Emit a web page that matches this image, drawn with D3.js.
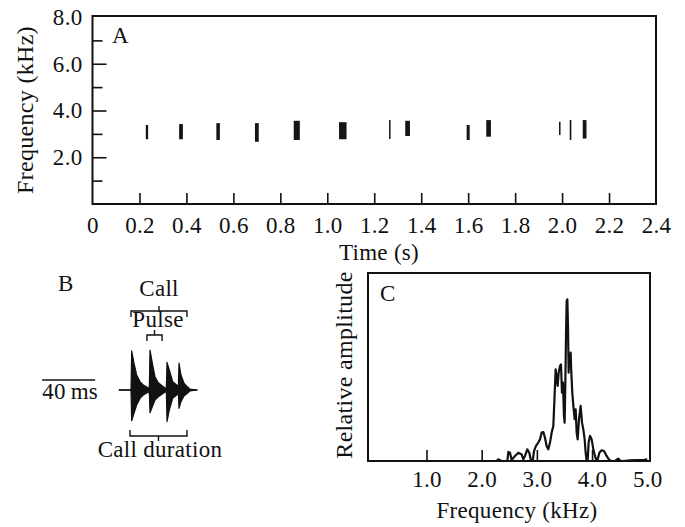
<!DOCTYPE html>
<html>
<head>
<meta charset="utf-8">
<script src="https://cdn.jsdelivr.net/npm/d3@7"></script>
<style>
body { margin: 0; background: #fff; }
</style>
</head>
<body>
<div id="canvas"></div>
<script>
// ---- panel A: spectrogram ----
let timeTicks = [0, 0.2, 0.4, 0.6, 0.8, 1.0, 1.2, 1.4, 1.6, 1.8, 2.0, 2.2, 2.4]
let freqMajor = [2, 4, 6, 8]
let freqMinor = [1, 3, 5, 7]
let callTime  = [0.232, 0.377, 0.535, 0.700, 0.870, 1.066, 1.266, 1.342, 1.600, 1.687, 1.990, 2.036, 2.096]
let callWidth = [0.010, 0.016, 0.015, 0.016, 0.026, 0.032, 0.006, 0.020, 0.013, 0.020, 0.006, 0.007, 0.016]
let callLow   = [2.77, 2.77, 2.74, 2.66, 2.74, 2.77, 2.78, 2.91, 2.74, 2.88, 2.95, 2.74, 2.80]
let callHigh  = [3.38, 3.42, 3.46, 3.46, 3.56, 3.50, 3.59, 3.56, 3.38, 3.59, 3.52, 3.59, 3.59]

// ---- panel B: oscillogram (ms, relative amplitude envelope) ----
let waveT  = [0, 9.06, 9.56, 11.32, 13.33, 15.85, 18.36, 21.38, 22.89, 23.40, 25.16, 27.17, 29.69, 33.46, 35.47, 35.72, 36.23, 37.99, 40.5, 43.52, 44.78, 45.28, 46.79, 49.06, 51.57, 53.58, 59]
let waveUp = [0, 0, 0.98, 0.67, 0.375, 0.21, 0.125, 0.07, 0.05, 1.0, 0.67, 0.33, 0.18, 0.08, 0.04, 0.03, 0.69, 0.5, 0.21, 0.125, 0.08, 0.67, 0.375, 0.17, 0.08, 0.02, 0]
let waveLo = [0, 0, -0.77, -0.58, -0.375, -0.21, -0.125, -0.07, -0.05, -0.57, -0.42, -0.25, -0.17, -0.08, -0.04, -0.03, -0.79, -0.5, -0.21, -0.125, -0.08, -0.46, -0.29, -0.15, -0.08, -0.02, 0]
let scaleBar = [-58, -18]          // 40 ms
let callSpan = [9.06, 51.3]
let pulseSpan = [21.1, 32.5]
let durSpan = [8.3, 51.3]

// ---- panel C: power spectrum ----
let specTicks = [1, 2, 3, 4, 5]
let specFreq = [2.15, 2.27, 2.30, 2.36, 2.465, 2.483, 2.513, 2.543, 2.604, 2.664, 2.724, 2.755, 2.785, 2.827, 2.863, 2.887, 2.924, 2.948, 2.984, 3.026, 3.057, 3.087, 3.117, 3.147, 3.177, 3.207, 3.238, 3.268, 3.298, 3.316, 3.340, 3.359, 3.377, 3.395, 3.419, 3.437, 3.455, 3.473, 3.491, 3.503, 3.515, 3.528, 3.540, 3.552, 3.564, 3.576, 3.588, 3.600, 3.612, 3.624, 3.642, 3.661, 3.685, 3.703, 3.721, 3.739, 3.763, 3.793, 3.818, 3.842, 3.866, 3.884, 3.902, 3.920, 3.938, 3.963, 3.993, 4.023, 4.053, 4.071, 4.095, 4.132, 4.174, 4.216, 4.264, 4.313, 4.355, 4.415, 4.476, 4.524, 4.566, 4.687, 4.808, 4.929, 5.0]
let specAmp = [0, 0, 0.009, 0, 0, 0.048, 0.044, 0.005, 0.027, 0.044, 0.035, 0.009, 0.027, 0.062, 0.044, 0.009, 0, 0.053, 0.080, 0.098, 0.115, 0.151, 0.154, 0.124, 0.080, 0.062, 0.098, 0.151, 0.186, 0.310, 0.488, 0.443, 0.399, 0.470, 0.505, 0.514, 0.363, 0.417, 0.239, 0.204, 0.399, 0.665, 0.851, 0.860, 0.718, 0.470, 0.559, 0.505, 0.576, 0.470, 0.363, 0.293, 0.222, 0.275, 0.151, 0.115, 0.222, 0.293, 0.204, 0.168, 0.115, 0.044, 0, 0, 0.098, 0.134, 0.115, 0.062, 0.027, 0.009, 0, 0.044, 0.057, 0.053, 0.027, 0.005, 0, 0, 0.012, 0, 0, 0.004, 0.005, 0.005, 0.009]

let width = 685
let height = 527
let fs = 23
let font = "'Liberation Serif', 'Times New Roman', serif"

let svg = d3.select("#canvas").append("svg")
    .attr("width", width)
    .attr("height", height)
    .style("font-family", font)

svg.append("rect").attr("width", width).attr("height", height).attr("fill", "#fff")

// common text helper
function label(g, x, y, s, anchor, rot, size) {
    let t = g.append("text")
        .style("font-family", font)
        .style("letter-spacing", "0.3px")
        .attr("font-size", size || fs)
        .attr("fill", "#111")
        .attr("text-anchor", anchor || "start")
        .text(s)
    if (rot) t.attr("transform", "translate(" + x + "," + y + ") rotate(-90)")
    else t.attr("x", x).attr("y", y)
    return t
}

function styleTicks(g) {
    g.select(".domain").remove()
    g.selectAll("line").attr("stroke", "#111").attr("stroke-width", 1.6)
    g.selectAll("text")
        .style("font-family", font)
        .style("letter-spacing", "0.3px")
        .attr("font-size", fs)
        .attr("fill", "#111")
}

// ================= A =================
let xA = d3.scaleLinear().domain([0, 2.4]).range([92.5, 656])
let yA = d3.scaleLinear().domain([0, 8]).range([204, 17])

let gA = svg.append("g")

gA.append("rect")
    .attr("x", xA(0)).attr("y", 16)
    .attr("width", xA(2.4) - xA(0)).attr("height", yA(0) - 16)
    .attr("fill", "none").attr("stroke", "#111").attr("stroke-width", 2)

// calls
gA.append("g").selectAll("rect")
    .data(callTime)
    .enter().append("rect")
        .attr("x", (d, i) => xA(d - callWidth[i] / 2))
        .attr("width", (d, i) => Math.max(1.5, xA(callWidth[i]) - xA(0)))
        .attr("y", (d, i) => yA(callHigh[i]))
        .attr("height", (d, i) => yA(callLow[i]) - yA(callHigh[i]))
        .attr("fill", "#151515")

// x ticks (inside, pointing up)
gA.append("g")
    .attr("transform", "translate(0," + yA(0) + ")")
    .call(d3.axisTop(xA).tickValues(timeTicks.slice(1, -1)).tickSize(11).tickFormat(""))
    .call(styleTicks)

gA.append("g")
    .attr("transform", "translate(0," + yA(0) + ")")
    .call(d3.axisBottom(xA).tickValues(timeTicks).tickSize(0).tickPadding(13)
        .tickFormat(d => d === 0 ? "0" : d3.format(".1f")(d)))
    .call(styleTicks)

// y ticks (inside, pointing right)
gA.append("g")
    .attr("transform", "translate(" + xA(0) + ",0)")
    .call(d3.axisRight(yA).tickValues([2, 4, 6]).tickSize(14).tickFormat(""))
    .call(styleTicks)

gA.append("g")
    .attr("transform", "translate(" + xA(0) + ",0)")
    .call(d3.axisRight(yA).tickValues(freqMinor).tickSize(10).tickFormat(""))
    .call(styleTicks)

gA.append("g")
    .attr("transform", "translate(" + xA(0) + ",0)")
    .call(d3.axisLeft(yA).tickValues(freqMajor).tickSize(0).tickPadding(10).tickFormat(d3.format(".1f")))
    .call(styleTicks)

label(gA, 33, 110, "Frequency (kHz)", "middle", true, 24)
label(gA, 379, 260, "Time (s)", "middle")
label(gA, 112, 43, "A")

// ================= B =================
let xB = d3.scaleLinear().domain([0, 60]).range([119, 198.5])
let yB = d3.scaleLinear().domain([-1, 1]).range([430, 350])

let gB = svg.append("g")

label(gB, 58, 291, "B")

gB.append("line")
    .attr("x1", xB(0)).attr("x2", xB(59))
    .attr("y1", yB(0)).attr("y2", yB(0))
    .attr("stroke", "#111").attr("stroke-width", 1.6)

let area = d3.area()
    .x((d, i) => xB(waveT[i]))
    .y0((d, i) => yB(waveLo[i]))
    .y1((d, i) => yB(waveUp[i]))

gB.append("path")
    .datum(waveT)
    .attr("d", area)
    .attr("fill", "#111")
    .attr("stroke", "#111")
    .attr("stroke-width", 1.2)
    .attr("stroke-linejoin", "round")

// brackets
function bracket(span, y, dir) {
    let x1 = xB(span[0]), x2 = xB(span[1])
    let xm = (x1 + x2) / 2
    let p = "M" + x1 + "," + (y + dir * 6) + "V" + y + "H" + x2 + "V" + (y + dir * 6)
        + "M" + xm + "," + y + "V" + (y - dir * 5)
    gB.append("path").attr("d", p).attr("fill", "none").attr("stroke", "#111").attr("stroke-width", 1.4)
}
bracket(callSpan, 311, 1)
bracket(pulseSpan, 335, 1)
bracket(durSpan, 436, -1)

label(gB, 159, 296, "Call", "middle")
label(gB, 158, 327, "Pulse", "middle")
label(gB, 160, 457, "Call duration", "middle")

gB.append("line")
    .attr("x1", xB(scaleBar[0])).attr("x2", xB(scaleBar[1]))
    .attr("y1", 380).attr("y2", 380)
    .attr("stroke", "#111").attr("stroke-width", 1.6)
label(gB, xB(scaleBar[0]), 399, "40\u2009ms")

// ================= C =================
let xC = d3.scaleLinear().domain([-0.06, 5.05]).range([368, 650])
let yC = d3.scaleLinear().domain([0, 1]).range([461, 273])

let gC = svg.append("g")

gC.append("rect")
    .attr("x", xC.range()[0]).attr("y", yC(1))
    .attr("width", xC.range()[1] - xC.range()[0]).attr("height", yC(0) - yC(1))
    .attr("fill", "none").attr("stroke", "#111").attr("stroke-width", 2)

gC.append("g")
    .attr("transform", "translate(0," + yC(0) + ")")
    .call(d3.axisTop(xC).tickValues(specTicks.slice(0, -1)).tickSize(11).tickFormat(""))
    .call(styleTicks)

gC.append("g")
    .attr("transform", "translate(0," + yC(0) + ")")
    .call(d3.axisBottom(xC).tickValues(specTicks).tickSize(0).tickPadding(10).tickFormat(d3.format(".1f")))
    .call(styleTicks)

let line = d3.line()
    .x((d, i) => xC(specFreq[i]))
    .y(d => yC(d))

gC.append("path")
    .datum(specAmp)
    .attr("d", line)
    .attr("fill", "none")
    .attr("stroke", "#111")
    .attr("stroke-width", 2.2)
    .attr("stroke-linejoin", "round")

label(gC, 352, 365, "Relative amplitude", "middle", true, 24)
label(gC, 517, 518, "Frequency (kHz)", "middle")
label(gC, 380, 301, "C")
</script>
</body>
</html>
